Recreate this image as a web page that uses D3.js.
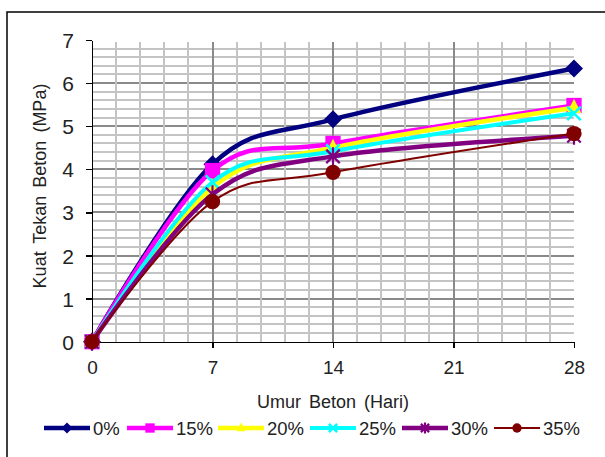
<!doctype html>
<html>
<head>
<meta charset="utf-8">
<style>
  body {margin:0; background:#fff;}
  svg {display:block; font-family:"Liberation Sans", Arial, sans-serif;}
  .axis path, .axis line {stroke:#000; stroke-width:1.3px; shape-rendering:crispEdges;}
  .axis text {fill:#222;}
</style>
<script src="https://d3js.org/d3.v7.min.js"></script>
</head>
<body>
<script>
// data
var days = [0, 7, 14, 28];
var xTicks = [0, 7, 14, 21, 28];
var yTicks = [0, 1, 2, 3, 4, 5, 6, 7];
var labels = ["0%", "15%", "20%", "25%", "30%", "35%"];
var s0  = [0, 4.12, 5.16, 6.34];
var s15 = [0, 3.97, 4.60, 5.48];
var s20 = [0, 3.58, 4.50, 5.43];
var s25 = [0, 3.70, 4.42, 5.30];
var s30 = [0, 3.42, 4.30, 4.78];
var s35 = [0, 3.25, 3.93, 4.83];
var seriesVals = [s0, s15, s20, s25, s30, s35];

var colors = ["#000080", "#ff00ff", "#ffff00", "#00ffff", "#800080", "#800000"];
var widths = [4.5, 4.5, 4.5, 4, 4.5, 2];
var shapes = ["diamond", "square", "triangle", "x", "star", "circle"];

var W = 605, H = 457;
var svg = d3.select("body").append("svg").attr("width", W).attr("height", H);

// outer chart border (runs off right and bottom)
svg.append("rect").attr("x", 7).attr("y", 12).attr("width", 640).attr("height", 480)
  .attr("fill", "#fff").attr("stroke", "#000").attr("stroke-width", 1.5);

var x = d3.scaleLinear().domain([0, 28]).range([92, 574]);
var y = d3.scaleLinear().domain([0, 7]).range([341.7, 40]);

// gridlines
var grid = svg.append("g").attr("shape-rendering", "crispEdges");
var hMinor = d3.range(1, 35).map(function(i){ return i * 0.2; });
grid.selectAll(".hm").data(hMinor).enter().append("line")
  .attr("x1", x(0)).attr("x2", x(28))
  .attr("y1", function(d){ return y(d); }).attr("y2", function(d){ return y(d); })
  .attr("stroke", function(d){ return Math.abs(d - Math.round(d)) < 1e-6 ? "#8a8a8a" : "#c4c4c4"; })
  .attr("stroke-width", 2);
var vMinor = d3.range(1, 20).map(function(i){ return i * 1.4; });
grid.selectAll(".vm").data(vMinor).enter().append("line")
  .attr("y1", y(6.95)).attr("y2", y(0))
  .attr("x1", function(d){ return x(d); }).attr("x2", function(d){ return x(d); })
  .attr("stroke", function(d){ return Math.abs(d / 7 - Math.round(d / 7)) < 1e-6 ? "#8a8a8a" : "#c4c4c4"; })
  .attr("stroke-width", 2);

// axes
var yAxis = svg.append("g").attr("class", "axis")
  .attr("transform", "translate(" + x(0) + ",0)")
  .call(d3.axisLeft(y).tickValues(yTicks).tickSize(6).tickSizeOuter(0).tickPadding(12).tickFormat(d3.format("d")));
yAxis.selectAll("text").attr("font-size", 21).attr("dy", "0.36em");

var xAxis = svg.append("g").attr("class", "axis")
  .attr("transform", "translate(0," + y(0) + ")")
  .call(d3.axisBottom(x).tickValues(xTicks).tickSize(6).tickSizeOuter(0).tickPadding(13).tickFormat(d3.format("d")));
xAxis.selectAll("text").attr("font-size", 19);
svg.selectAll(".axis .domain").attr("stroke-width", 1.5);

// axis titles
svg.append("text").attr("transform", "translate(46,186) rotate(-90)")
  .attr("text-anchor", "middle").attr("font-size", 18).attr("fill", "#222")
  .attr("word-spacing", 3).text("Kuat Tekan Beton (MPa)");
svg.append("text").attr("x", 333).attr("y", 408)
  .attr("text-anchor", "middle").attr("font-size", 18).attr("fill", "#222")
  .attr("word-spacing", 3).text("Umur Beton (Hari)");

// marker drawing
function marker(g, shape, cx, cy, s, color) {
  var h = s / 2;
  if (shape === "diamond") {
    g.append("path").attr("d", "M" + cx + "," + (cy - h) + "L" + (cx + h) + "," + cy + "L" + cx + "," + (cy + h) + "L" + (cx - h) + "," + cy + "Z")
      .attr("fill", color);
  } else if (shape === "square") {
    g.append("rect").attr("x", cx - h * 0.85).attr("y", cy - h * 0.85)
      .attr("width", s * 0.85).attr("height", s * 0.85).attr("fill", color);
  } else if (shape === "triangle") {
    g.append("path").attr("d", "M" + cx + "," + (cy - h) + "L" + (cx + h * 0.8) + "," + (cy + h * 0.6) + "L" + (cx - h * 0.8) + "," + (cy + h * 0.6) + "Z")
      .attr("fill", color);
  } else if (shape === "x") {
    var a = h * 0.75;
    g.append("path").attr("d", "M" + (cx - a) + "," + (cy - a) + "L" + (cx + a) + "," + (cy + a) + "M" + (cx + a) + "," + (cy - a) + "L" + (cx - a) + "," + (cy + a))
      .attr("stroke", color).attr("stroke-width", 2.5).attr("fill", "none");
  } else if (shape === "star") {
    var b = h * 0.75;
    g.append("path").attr("d", "M" + (cx - b) + "," + (cy - b) + "L" + (cx + b) + "," + (cy + b) + "M" + (cx + b) + "," + (cy - b) + "L" + (cx - b) + "," + (cy + b) + "M" + cx + "," + (cy - h) + "L" + cx + "," + (cy + h))
      .attr("stroke", color).attr("stroke-width", 2.2).attr("fill", "none");
  } else if (shape === "circle") {
    g.append("circle").attr("cx", cx).attr("cy", cy).attr("r", h * 0.85).attr("fill", color);
  }
}

// series lines with markers
var line = d3.line()
  .x(function(d, i){ return x(days[i]); })
  .y(function(d){ return y(d); })
  .curve(d3.curveCardinal.tension(0));

var plot = svg.append("g");
seriesVals.forEach(function(vals, k) {
  var g = plot.append("g");
  g.append("path").datum(vals).attr("d", line)
    .attr("fill", "none").attr("stroke", colors[k]).attr("stroke-width", widths[k])
    .attr("stroke-linejoin", "round");
  vals.forEach(function(v, i) {
    marker(g, shapes[k], x(days[i]), y(v), 18, colors[k]);
  });
});

// legend
var legX = [44, 127, 218, 310, 402, 494];
var leg = svg.append("g");
labels.forEach(function(lab, k) {
  var g = leg.append("g").attr("transform", "translate(" + legX[k] + ",428)");
  g.append("line").attr("x1", 0).attr("x2", 46).attr("y1", 0).attr("y2", 0)
    .attr("stroke", colors[k]).attr("stroke-width", widths[k]);
  marker(g, shapes[k], 23, 0, 11, colors[k]);
  g.append("text").attr("x", 49).attr("y", 7).attr("font-size", 18.5).attr("fill", "#222").text(lab);
});
</script>
</body>
</html>
